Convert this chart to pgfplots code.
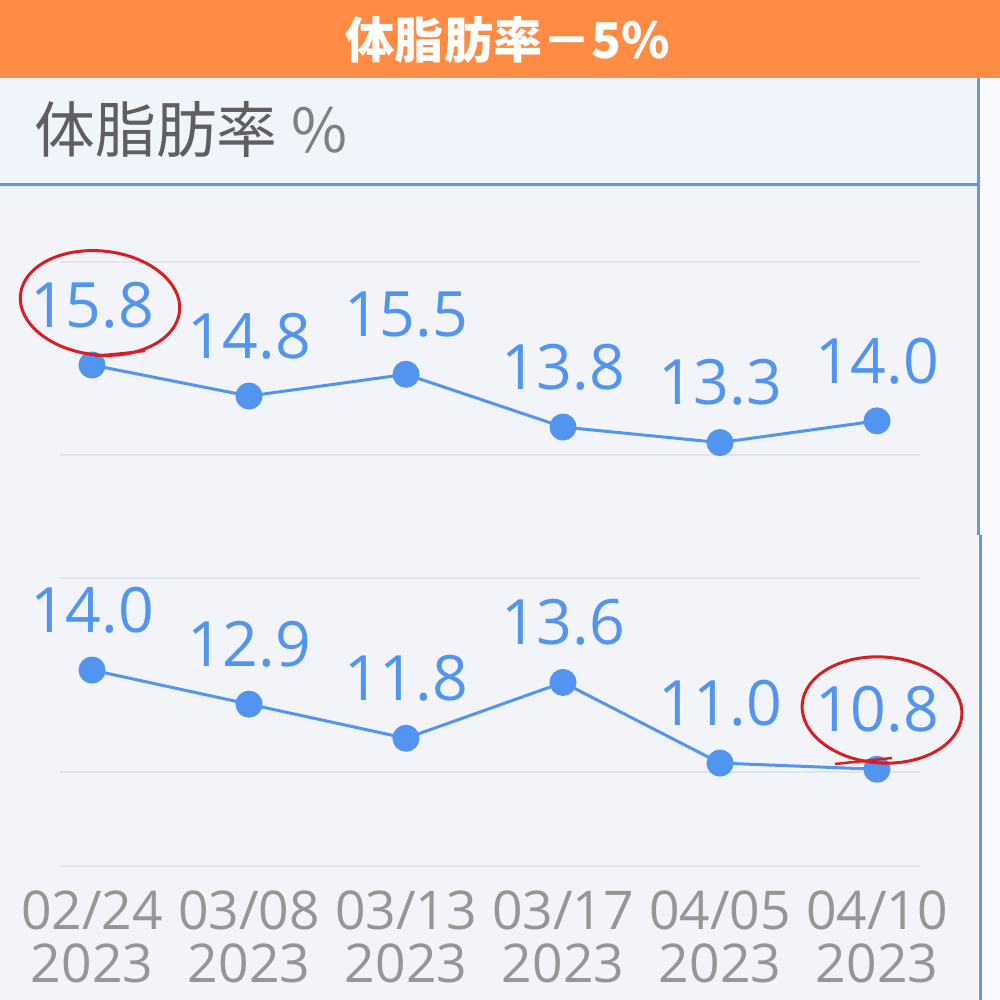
\documentclass[border=0pt]{standalone}
\usepackage{pgfplots}
\pgfplotsset{compat=1.18}
\usepackage{fontspec}
\setmainfont{Open Sans}
\newfontfamily\cjk{Noto Sans CJK JP}
\definecolor{bannerorange}{RGB}{255,139,68}
\definecolor{panelbg}{RGB}{243,244,249}
\definecolor{titlebg}{RGB}{240,245,252}
\definecolor{stripbg}{RGB}{249,250,253}
\definecolor{blueline}{RGB}{100,150,230}
\definecolor{ptblue}{RGB}{82,149,240}
\definecolor{gridgray}{RGB}{226,228,234}
\definecolor{ticklab}{RGB}{150,150,150}
\definecolor{titlegray}{RGB}{95,95,95}
\definecolor{annred}{RGB}{215,30,35}
\pgfplotstableread{
x y
0 15.8
1 14.8
2 15.5
3 13.8
4 13.3
5 14.0
}\toptable
\pgfplotstableread{
x y
0 14.0
1 12.9
2 11.8
3 13.6
4 11.0
5 10.8
}\bottable
\pgfplotsset{
  panel/.style={
    scale only axis, width=8.6cm, clip=false,
    xmin=-0.204, xmax=5.274,
    axis line style={draw=none}, tick style={draw=none},
    ymajorgrids, grid style={color=gridgray, line width=0.025cm},
    yticklabels={},
    /pgf/number format/.cd, fixed, fixed zerofill, precision=1, assume math mode=true,
  },
  blueser/.style={
    color=ptblue, line width=0.03cm, mark=*, mark size=0.12cm,
    mark options={fill=ptblue, draw=ptblue},
    nodes near coords,
    every node near coord/.append style={anchor=center, yshift=0.6cm, text=ptblue,
      font=\fontsize{17.8}{20}\selectfont},
  },
}
\begin{document}
\begin{tikzpicture}
\useasboundingbox (0,0) rectangle (10,10);
\fill[panelbg] (0,0) rectangle (10,10);
\fill[titlebg] (0,8.15) rectangle (9.78,9.22);
\fill[stripbg] (9.78,0) rectangle (10,9.22);
\fill[bannerorange] (0,9.22) rectangle (10,10);
\node[text=white, font=\cjk\bfseries\fontsize{14}{16}\selectfont] at (5.08,9.60) {体脂肪率－5\%};
\node[anchor=west, text=titlegray, font=\cjk\fontsize{17.3}{20}\selectfont] at (0.22,8.70) {体脂肪率 \textcolor{gray}{\%}};
\draw[blueline, line width=0.03cm] (0,8.15) -- (9.78,8.15);
\draw[blueline, line width=0.03cm] (9.78,9.22) -- (9.78,4.65);
\draw[blueline, line width=0.03cm] (9.80,4.65) -- (9.80,0);

\begin{axis}[panel, at={(0.60cm,5.45cm)}, anchor=south west,
  height=1.93cm, ymin=12.90, ymax=19.12, ytick={12.90,19.12},
  xtick={0,...,5}, xticklabels={}]
\addplot[blueser] table[x=x,y=y] {\toptable};
\end{axis}

\begin{axis}[panel, at={(0.60cm,1.34cm)}, anchor=south west,
  height=2.88cm, ymin=7.68, ymax=16.97, ytick={7.68,10.71,16.97},
  xtick={0,...,5},
  xticklabels={02/24\\2023,03/08\\2023,03/13\\2023,03/17\\2023,04/05\\2023,04/10\\2023},
  xticklabel style={align=center, text=ticklab, font=\fontsize{15.2}{15.2}\selectfont, yshift=-0.12cm}]
\addplot[blueser] table[x=x,y=y] {\bottable};
\end{axis}

\draw[annred, line width=0.03cm, rotate around={-6:(1.00,6.97)}] (1.00,6.97) ellipse [x radius=0.80cm, y radius=0.52cm];
\draw[annred, line width=0.025cm] (0.95,6.44) -- (1.45,6.49);
\draw[annred, line width=0.03cm, rotate around={-4:(8.82,2.90)}] (8.82,2.90) ellipse [x radius=0.80cm, y radius=0.53cm];
\draw[annred, line width=0.025cm] (8.35,2.36) -- (8.92,2.42);
\end{tikzpicture}
\end{document}
